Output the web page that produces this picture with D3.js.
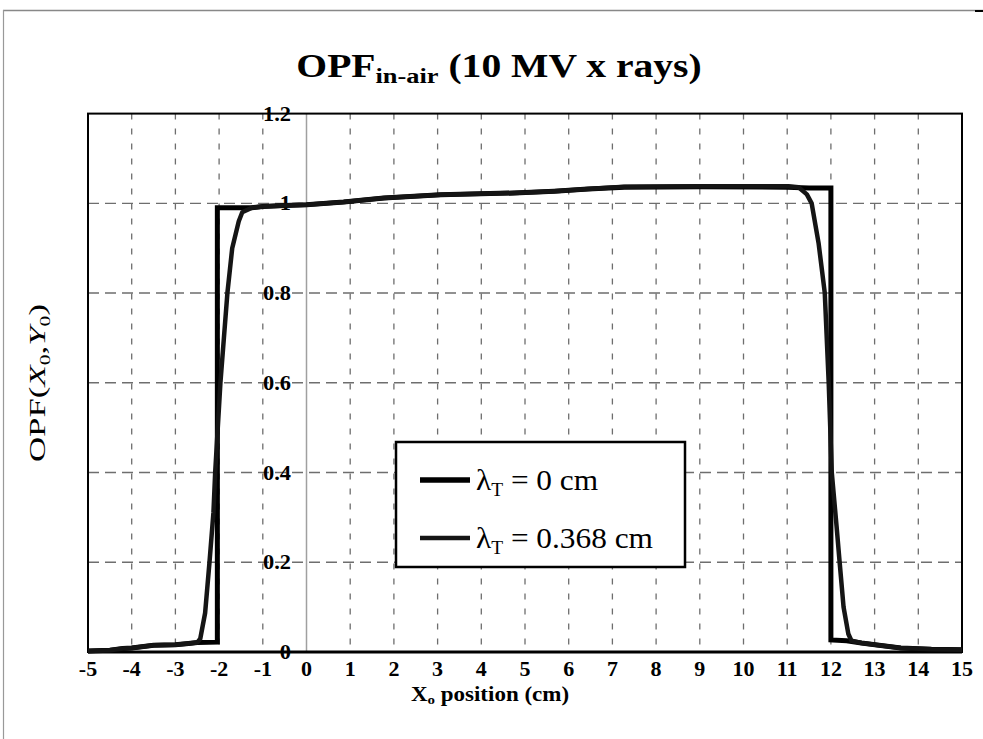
<!DOCTYPE html>
<html>
<head>
<meta charset="utf-8">
<script src="https://cdn.jsdelivr.net/npm/d3@7"></script>
<style>
  html, body { margin: 0; padding: 0; background: #fff; }
  svg { display: block; }
  text { font-family: "Liberation Serif", "Times New Roman", "DejaVu Serif", serif; fill: #000; }
</style>
</head>
<body>
<svg id="chart" width="983" height="739"></svg>
<script>
// Off-axis output factor in air, 10 MV x rays, along X0 (cm)
const xTicks = [-5,-4,-3,-2,-1,0,1,2,3,4,5,6,7,8,9,10,11,12,13,14,15];
const yTicks = [0, 0.2, 0.4, 0.6, 0.8, 1, 1.2];
const yTickLabels = ["0", "0.2", "0.4", "0.6", "0.8", "1", "1.2"];

// λT = 0 cm : sharp-edged profile
const xSharp = [-5, -4.5, -4.2, -4.0, -3.5, -3.0, -2.7, -2.5, -2.04, -2.04, -1.25, -1.0, -0.5, 0, 0.85, 1.77, 3.07, 4.75, 5.67, 6.44, 7.27, 9, 11.0, 11.5, 12.0, 12.0, 12.36, 12.7, 13.1, 13.6, 14.3, 15.0];
const ySharp = [0.002, 0.004, 0.008, 0.009, 0.015, 0.016, 0.019, 0.021, 0.022, 0.99, 0.99, 0.993, 0.995, 0.997, 1.003, 1.012, 1.019, 1.023, 1.027, 1.032, 1.036, 1.037, 1.036, 1.034, 1.034, 0.027, 0.025, 0.02, 0.015, 0.009, 0.006, 0.005];

// λT = 0.368 cm : blurred-edge profile
const xSmooth = [-5, -4.5, -4.2, -4.0, -3.5, -3.0, -2.7, -2.5, -2.43, -2.32, -2.22, -2.13, -2.09, -2.03, -1.97, -1.89, -1.81, -1.70, -1.55, -1.47, -1.25, -1.0, -0.5, 0, 0.85, 1.77, 3.07, 4.75, 5.67, 6.44, 7.27, 9, 11.03, 11.26, 11.45, 11.56, 11.72, 11.86, 11.95, 12.02, 12.13, 12.2, 12.29, 12.4, 12.47, 12.7, 13.1, 13.6, 14.3, 15.0];
const ySmooth = [0.002, 0.004, 0.008, 0.009, 0.015, 0.016, 0.019, 0.021, 0.03, 0.087, 0.2, 0.31, 0.4, 0.5, 0.6, 0.7, 0.8, 0.9, 0.96, 0.98, 0.99, 0.993, 0.995, 0.997, 1.003, 1.012, 1.019, 1.023, 1.027, 1.032, 1.037, 1.038, 1.038, 1.036, 1.02, 1.0, 0.91, 0.8, 0.6, 0.4, 0.28, 0.2, 0.1, 0.04, 0.025, 0.02, 0.015, 0.009, 0.006, 0.005];

const seriesNames = ["λT = 0 cm", "λT = 0.368 cm"];

const svg = d3.select("#chart");
const x = d3.scaleLinear().domain([-5, 15]).range([88, 962]);
const y = d3.scaleLinear().domain([0, 1.2]).range([652, 113.6]);

// horizontally stretched text helper
function stretched(tx, ty, sx, anchor, size, weight) {
  return svg.append("g").attr("transform", `translate(${tx},${ty}) scale(${sx},1)`)
    .append("text").attr("text-anchor", anchor).attr("font-size", size)
    .attr("font-weight", weight || "normal");
}

// outer frame
svg.append("line").attr("x1", 3).attr("x2", 983).attr("y1", 10.5).attr("y2", 10.5)
  .attr("stroke", "#888").attr("stroke-width", 1.5);
svg.append("line").attr("x1", 3.5).attr("x2", 3.5).attr("y1", 10).attr("y2", 739)
  .attr("stroke", "#999").attr("stroke-width", 1.2);
svg.append("line").attr("x1", 975).attr("x2", 983).attr("y1", 11).attr("y2", 11)
  .attr("stroke", "#000").attr("stroke-width", 2);

// title
const title = stretched(499, 77, 1.2, "middle", 33, "bold");
title.append("tspan").text("OPF");
title.append("tspan").attr("font-size", 22).attr("dy", 6).text("in-air");
title.append("tspan").attr("dy", -6).text(" (10 MV x rays)");

// gridlines
const grid = svg.append("g");
grid.selectAll("line.h").data(yTicks.filter(v => v > 0 && v < 1.2)).join("line")
  .attr("x1", x(-5)).attr("x2", x(15))
  .attr("y1", d => y(d)).attr("y2", d => y(d))
  .attr("stroke", "#6e6e6e").attr("stroke-width", 1.4).attr("stroke-dasharray", "11,6");
grid.selectAll("line.v").data(xTicks.filter(v => v > -5 && v < 15 && v !== 0)).join("line")
  .attr("x1", d => x(d)).attr("x2", d => x(d))
  .attr("y1", y(1.2)).attr("y2", y(0))
  .attr("stroke", "#6e6e6e").attr("stroke-width", 1.3).attr("stroke-dasharray", "6,9");

// vertical axis at X0 = 0
svg.append("line").attr("x1", x(0)).attr("x2", x(0)).attr("y1", y(1.2)).attr("y2", y(0))
  .attr("stroke", "#a0a0a0").attr("stroke-width", 1.5);

// plot frame
svg.append("rect").attr("x", x(-5)).attr("y", y(1.2))
  .attr("width", x(15) - x(-5)).attr("height", y(0) - y(1.2))
  .attr("fill", "none").attr("stroke", "#000").attr("stroke-width", 2);
svg.append("line").attr("x1", x(-5)).attr("x2", x(15)).attr("y1", y(0)).attr("y2", y(0))
  .attr("stroke", "#000").attr("stroke-width", 3);

// y tick labels
yTicks.forEach((v, i) => {
  stretched(291, y(v) + 7, 1.12, "end", 20, "bold").text(yTickLabels[i]);
});

// x tick labels
xTicks.forEach(v => {
  stretched(x(v), 676, 1.1, "middle", 20, "bold").text(String(v));
});

// axis titles
const xl = stretched(490, 701, 1.15, "middle", 20, "bold");
xl.append("tspan").text("X");
xl.append("tspan").attr("font-size", 13).attr("dy", 3).text("o");
xl.append("tspan").attr("dy", -3).text(" position (cm)");

const yl = svg.append("g").attr("transform", "translate(45,383) rotate(-90) scale(1.45,1)")
  .append("text").attr("text-anchor", "middle").attr("font-size", 24);
yl.append("tspan").text("OPF(");
yl.append("tspan").attr("font-style", "italic").text("X");
yl.append("tspan").attr("font-size", 15).attr("dy", 5).text("0");
yl.append("tspan").attr("dy", -5).text(",");
yl.append("tspan").attr("font-style", "italic").text("Y");
yl.append("tspan").attr("font-size", 15).attr("dy", 5).text("0");
yl.append("tspan").attr("dy", -5).text(")");

// curves
const line = d3.line().x(d => x(d[0])).y(d => y(d[1]));
const sharp = xSharp.map((v, i) => [v, ySharp[i]]);
const smooth = xSmooth.map((v, i) => [v, ySmooth[i]]);
svg.append("path").datum(sharp).attr("d", line)
  .attr("fill", "none").attr("stroke", "#000").attr("stroke-width", 5)
  .attr("stroke-linejoin", "miter");
svg.append("path").datum(smooth).attr("d", line)
  .attr("fill", "none").attr("stroke", "#151515").attr("stroke-width", 4.5)
  .attr("stroke-linejoin", "round");

// legend
const lg = svg.append("g");
lg.append("rect").attr("x", 396).attr("y", 442).attr("width", 289).attr("height", 125)
  .attr("fill", "#fff").attr("stroke", "#000").attr("stroke-width", 2.5);
const legendRows = [
  { y: 480, w: 5.5, c: "#000", name: seriesNames[0] },
  { y: 538, w: 4.5, c: "#151515", name: seriesNames[1] }
];
legendRows.forEach(r => {
  lg.append("line").attr("x1", 420).attr("x2", 470).attr("y1", r.y).attr("y2", r.y)
    .attr("stroke", r.c).attr("stroke-width", r.w);
  const t = lg.append("g").attr("transform", `translate(476,${r.y + 10}) scale(1.08,1)`)
    .append("text").attr("font-size", 29);
  t.append("tspan").text("λ");
  t.append("tspan").attr("font-size", 18).attr("dy", 6).text("T");
  t.append("tspan").attr("dy", -6).text(r.name.replace("λT", ""));
});
</script>
</body>
</html>
